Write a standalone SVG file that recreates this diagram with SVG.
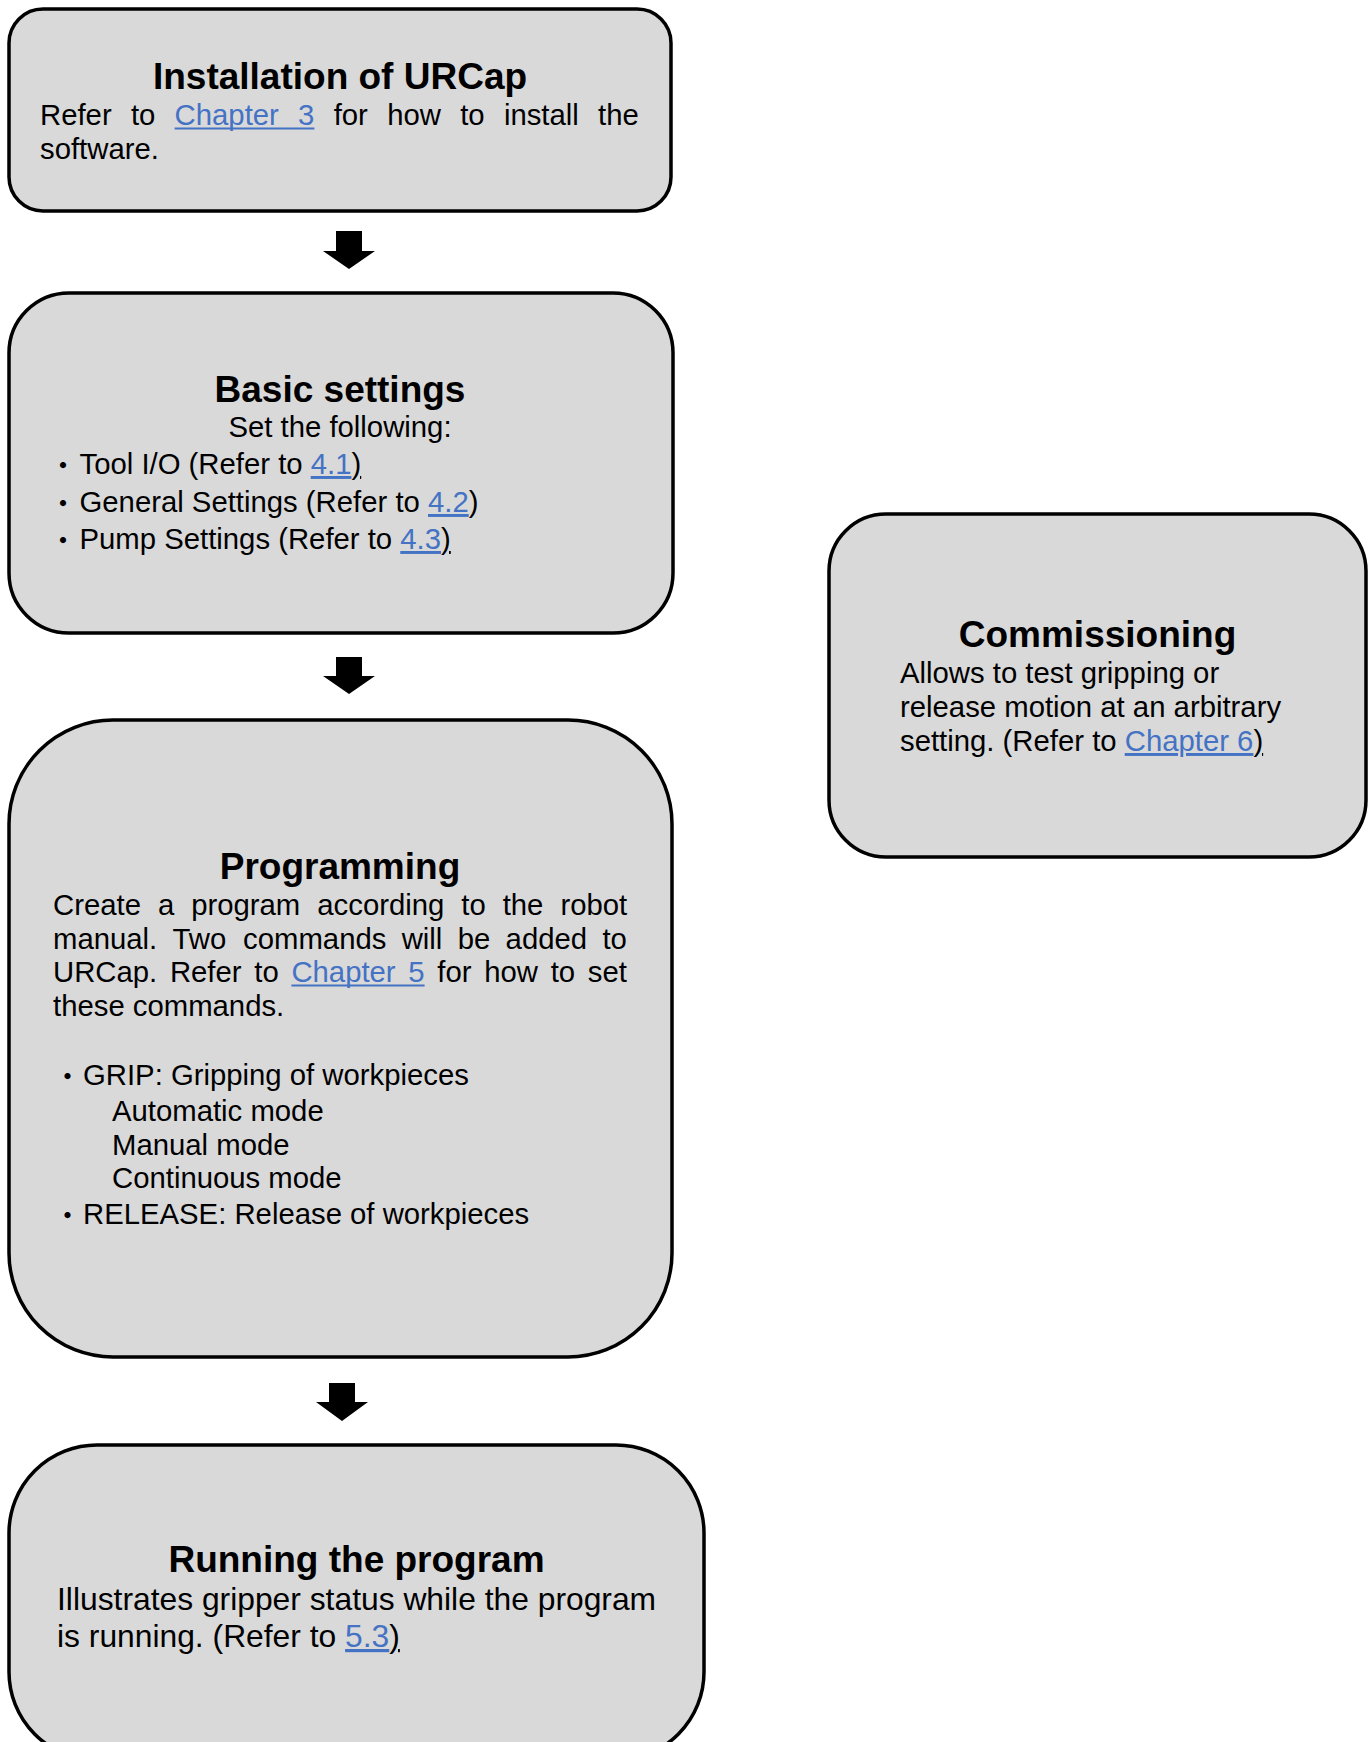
<svg xmlns="http://www.w3.org/2000/svg" width="1372" height="1742" viewBox="0 0 1372 1742">
<style>
.box{fill:#D9D9D9;stroke:#000;stroke-width:3.5}
text{font-family:"Liberation Sans",Arial,"Noto Sans CJK JP",sans-serif;fill:#000}
.t{font-size:37px;font-weight:bold;text-anchor:middle}
.b{font-size:29.3px}
.r{font-size:31.8px}
.bul{font-family:"Noto Sans CJK JP","Liberation Sans",sans-serif;font-size:24px;font-weight:bold}
.lk{fill:#4472C4;text-decoration:underline}
.ul{text-decoration:underline}
.uline{stroke:#4472C4;stroke-width:2}
.arrow{fill:#000}
</style>
<rect width="1372" height="1742" fill="#fff"/>
<g id="connectors">
<path class="arrow" d="M336,231 H362 V251 H375 L349,269 L323,251 H336 Z"/>
<path class="arrow" d="M336,657 H362 V676 H375 L349,694 L323,676 H336 Z"/>
<path class="arrow" d="M329,1383 H355 V1402 H368 L342,1421 L316,1402 H329 Z"/>
</g>
<g id="installation">
<rect class="box" x="9" y="9" width="662" height="202" rx="34" ry="34"/>
<text class="t" x="340" y="89">Installation of URCap</text>
<text class="b" y="125"><tspan x="40">Refer</tspan><tspan x="130.9">to</tspan><tspan x="174.6" fill="#4472C4">Chapter</tspan><tspan x="298.1" fill="#4472C4">3</tspan><tspan x="333.7">for</tspan><tspan x="387.2">how</tspan><tspan x="460.2">to</tspan><tspan x="503.9">install</tspan><tspan x="598.1">the</tspan></text>
<line class="uline" x1="174.6" y1="128.5" x2="314.4" y2="128.5"/>
<text class="b" x="40" y="159">software.</text>
</g>
<g id="basic-settings">
<rect class="box" x="9" y="293" width="664" height="340" rx="60" ry="60"/>
<text class="t" x="340" y="402">Basic settings</text>
<text class="b" x="340" y="437" text-anchor="middle">Set the following:</text>
<text class="b" x="51" y="474"><tspan class="bul">・</tspan><tspan x="79.5">Tool I/O (Refer to </tspan><tspan class="lk">4.1</tspan><tspan class="ul">)</tspan></text>
<text class="b" x="51" y="512"><tspan class="bul">・</tspan><tspan x="79.5">General Settings (Refer to </tspan><tspan class="lk">4.2</tspan>)</text>
<text class="b" x="51" y="549"><tspan class="bul">・</tspan><tspan x="79.5">Pump Settings (Refer to </tspan><tspan class="lk">4.3</tspan><tspan class="ul">)</tspan></text>
</g>
<g id="programming">
<rect class="box" x="9" y="720" width="663" height="637" rx="104" ry="104"/>
<text class="t" x="340" y="879">Programming</text>
<text class="b" y="915"><tspan x="53">Create</tspan><tspan x="157.9">a</tspan><tspan x="191.2">program</tspan><tspan x="317.3">according</tspan><tspan x="461.3">to</tspan><tspan x="502.7">the</tspan><tspan x="560.4">robot</tspan></text>
<text class="b" y="949"><tspan x="53">manual.</tspan><tspan x="172.5">Two</tspan><tspan x="243.1">commands</tspan><tspan x="401.7">will</tspan><tspan x="457.7">be</tspan><tspan x="505.6">added</tspan><tspan x="602.4">to</tspan></text>
<text class="b" y="982"><tspan x="53">URCap.</tspan><tspan x="169.9">Refer</tspan><tspan x="254.3">to</tspan><tspan x="291.4" fill="#4472C4">Chapter</tspan><tspan x="408.3" fill="#4472C4">5</tspan><tspan x="437.3">for</tspan><tspan x="484.2">how</tspan><tspan x="550.7">to</tspan><tspan x="587.8">set</tspan></text>
<line class="uline" x1="291.4" y1="985.5" x2="424.6" y2="985.5"/>
<text class="b" x="53" y="1016">these commands.</text>
<text class="b" x="55.5" y="1085"><tspan class="bul">・</tspan><tspan x="83">GRIP: Gripping of workpieces</tspan></text>
<text class="b" x="112" y="1121">Automatic mode</text>
<text class="b" x="112" y="1154.5">Manual mode</text>
<text class="b" x="112" y="1188">Continuous mode</text>
<text class="b" x="55.5" y="1224"><tspan class="bul">・</tspan><tspan x="83">RELEASE: Release of workpieces</tspan></text>
</g>
<g id="commissioning">
<rect class="box" x="829" y="514" width="537" height="343" rx="57" ry="57"/>
<text class="t" x="1097.5" y="647">Commissioning</text>
<text class="b" x="900" y="683">Allows to test gripping or</text>
<text class="b" x="900" y="717">release motion at an arbitrary</text>
<text class="b" x="900" y="751">setting. (Refer to <tspan class="lk">Chapter 6</tspan><tspan class="ul">)</tspan></text>
</g>
<g id="running">
<rect class="box" x="9" y="1445" width="695" height="315" rx="88" ry="88"/>
<text class="t" x="356.5" y="1572">Running the program</text>
<text class="r" x="57" y="1610">Illustrates gripper status while the program</text>
<text class="r" x="57" y="1647">is running. (Refer to <tspan class="lk">5.3</tspan><tspan class="ul">)</tspan></text>
</g>
</svg>
